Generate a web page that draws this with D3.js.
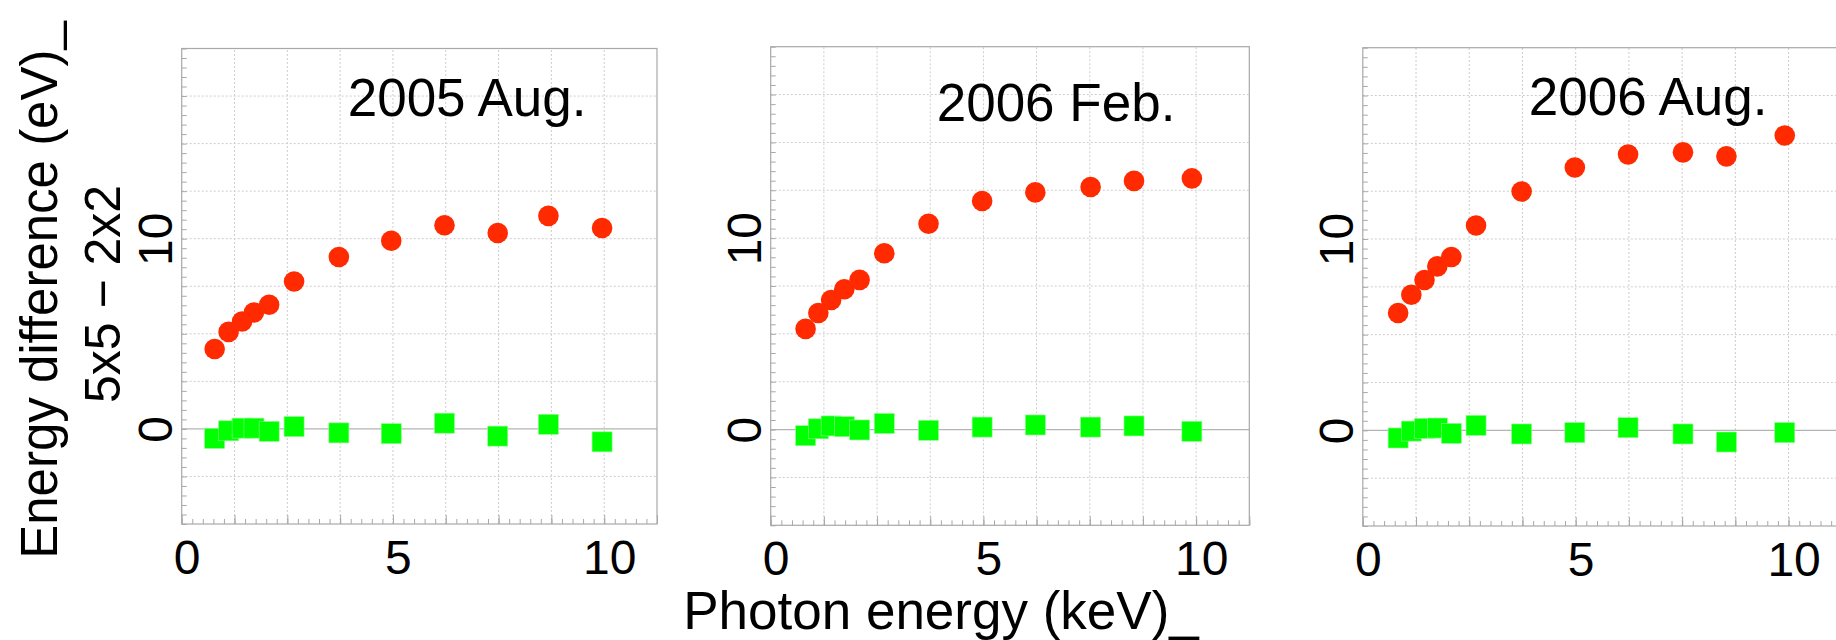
<!DOCTYPE html>
<meta charset="utf-8">
<style>
    body { margin: 0; background: #fff; }
    svg { display: block; font-family: "Liberation Sans", Arial, sans-serif; }
    .grid line { stroke: #cdcdcd; stroke-width: 1; stroke-dasharray: 2,2; }
    .zero { stroke: #b4b4b4; stroke-width: 1.2; }
    .frame { fill: none; stroke: #a8a8a8; stroke-width: 1.2; }
    .ticks path { display: none; }
    .ticks line { stroke: #a8a8a8; }
    .labels path, .labels line { display: none; }
</style>
<body>
<div id="chart"></div>
<script src="https://cdnjs.cloudflare.com/ajax/libs/d3/7.8.5/d3.min.js"></script>
<script>
    // photon energies (keV) and 5x5 - 2x2 energy differences (eV), one set per epoch
    var panelTitles = ["2005 Aug.", "2006 Feb.", "2006 Aug."];

    var energyAug05 = [0.78, 1.11, 1.43, 1.71, 2.07, 2.66, 3.72, 4.96, 6.22, 7.48, 8.68, 9.95];
    var circlesAug05 = [4.20, 5.10, 5.65, 6.12, 6.53, 7.75, 9.04, 9.89, 10.71, 10.30, 11.20, 10.56];
    var squaresAug05 = [-0.50, -0.10, 0.04, 0.04, -0.13, 0.12, -0.21, -0.25, 0.30, -0.38, 0.24, -0.68];

    var energyFeb06 = [0.82, 1.12, 1.42, 1.73, 2.09, 2.67, 3.71, 4.97, 6.22, 7.52, 8.54, 9.90];
    var circlesFeb06 = [5.26, 6.09, 6.77, 7.33, 7.82, 9.21, 10.75, 11.94, 12.39, 12.67, 12.99, 13.12];
    var squaresFeb06 = [-0.32, 0.04, 0.19, 0.15, -0.02, 0.32, -0.04, 0.13, 0.24, 0.13, 0.19, -0.09];

    var energyAug06 = [0.83, 1.14, 1.45, 1.75, 2.08, 2.66, 3.73, 4.98, 6.23, 7.52, 8.54, 9.91];
    var circlesAug06 = [6.13, 7.09, 7.86, 8.57, 9.06, 10.71, 12.48, 13.74, 14.42, 14.53, 14.32, 15.41];
    var squaresAug06 = [-0.40, -0.04, 0.10, 0.12, -0.16, 0.26, -0.19, -0.12, 0.14, -0.19, -0.61, -0.12];

    var xDomain = [0, 11.25],
        yDomain = [-5, 20],
        xTickLabels = [0, 5, 10],
        yTickLabels = [0, 10];

    var series = [
        {e: energyAug05, c: circlesAug05, s: squaresAug05},
        {e: energyFeb06, c: circlesFeb06, s: squaresFeb06},
        {e: energyAug06, c: circlesAug06, s: squaresAug06}
    ];

    // frame boxes (third one runs off the right edge)
    var boxes = [
        {x: 181.7, y: 48.5, w: 475.3, h: 475.5, tb: 115.7},
        {x: 770.7, y: 46.7, w: 478.6, h: 478.6, tb: 121.4},
        {x: 1362.8, y: 47.7, w: 479, h: 478.3, tb: 115}
    ];

    var svg = d3.select("#chart").append("svg")
        .attr("width", 1836)
        .attr("height", 640);

    function eps(v) { return v + 1e-9; }

    boxes.forEach(function(b, i) {
        var x = d3.scaleLinear().domain(xDomain).range([b.x, b.x + b.w]);
        var y = d3.scaleLinear().domain(yDomain).range([b.y + b.h, b.y]);
        var g = svg.append("g").attr("class", "panel");

        // dotted grid
        var grid = g.append("g").attr("class", "grid");
        grid.selectAll(".gx").data(d3.range(1.25, eps(10), 1.25))
            .enter().append("line")
            .attr("x1", d => x(d)).attr("x2", d => x(d))
            .attr("y1", y(yDomain[0])).attr("y2", y(yDomain[1]));
        grid.selectAll(".gy").data(d3.range(-2.5, eps(17.5), 2.5).filter(d => d !== 0))
            .enter().append("line")
            .attr("x1", x(xDomain[0])).attr("x2", x(xDomain[1]))
            .attr("y1", d => y(d)).attr("y2", d => y(d));
        g.append("line").attr("class", "zero")
            .attr("x1", x(xDomain[0])).attr("x2", x(xDomain[1]))
            .attr("y1", y(0)).attr("y2", y(0));

        // inner ticks on the bottom and left sides
        var bottom = g.append("g").attr("class", "ticks")
            .attr("transform", "translate(0," + y(yDomain[0]) + ")");
        bottom.call(d3.axisBottom(x).tickValues(d3.range(0, eps(11.25), 0.25)).tickSize(-5).tickFormat(""));
        bottom.append("g").call(d3.axisBottom(x).tickValues(d3.range(0, eps(11.25), 1.25)).tickSize(-9).tickFormat(""));
        var left = g.append("g").attr("class", "ticks")
            .attr("transform", "translate(" + x(xDomain[0]) + ",0)");
        left.call(d3.axisLeft(y).tickValues(d3.range(-5, eps(20), 0.5)).tickSize(-5).tickFormat(""));

        g.append("rect").attr("class", "frame")
            .attr("x", b.x).attr("y", b.y).attr("width", b.w).attr("height", b.h);

        // tick labels
        var xl = g.append("g").attr("class", "labels")
            .attr("transform", "translate(0," + y(yDomain[0]) + ")")
            .call(d3.axisBottom(x).tickValues(xTickLabels).tickSize(0).tickPadding(16));
        xl.selectAll("text").attr("dx", 5).style("font-size", "48px").attr("fill", "#000")
            .style("font-family", "Liberation Sans, Arial, sans-serif");
        var yl = g.append("g").attr("class", "labels")
            .attr("transform", "translate(" + x(xDomain[0]) + ",0)")
            .call(d3.axisLeft(y).tickValues(yTickLabels).tickSize(0));
        yl.selectAll("text")
            .attr("x", null).attr("dy", null)
            .attr("text-anchor", "middle")
            .attr("transform", "translate(-10,0) rotate(-90)")
            .style("font-size", "48px").attr("fill", "#000")
            .style("font-family", "Liberation Sans, Arial, sans-serif");

        var d = series[i];
        var pts = d.e.map((e, k) => ({e: e, c: d.c[k], s: d.s[k]}));

        g.selectAll(".dot").data(pts).enter().append("circle")
            .attr("cx", p => x(p.e)).attr("cy", p => y(p.c))
            .attr("r", 10.3).attr("fill", "#ff2a00");
        g.selectAll(".sq").data(pts).enter().append("rect")
            .attr("x", p => x(p.e) - 10).attr("y", p => y(p.s) - 10)
            .attr("width", 20).attr("height", 20)
            .attr("fill", "#00ff00").attr("stroke", "#8cff8c").attr("stroke-width", 0.6);

        g.append("text")
            .attr("x", b.x + 166).attr("y", b.tb)
            .style("font-size", "53px")
            .text(panelTitles[i]);
    });

    // axis titles
    svg.append("text")
        .attr("transform", "translate(57,290) rotate(-90)")
        .attr("text-anchor", "middle")
        .style("font-size", "51px")
        .text("Energy difference (eV)_");
    svg.append("text")
        .attr("transform", "translate(120,294) rotate(-90)")
        .attr("text-anchor", "middle")
        .style("font-size", "50px")
        .text("5x5 \u2212 2x2");
    svg.append("text")
        .attr("x", 941).attr("y", 629)
        .attr("text-anchor", "middle")
        .style("font-size", "53px")
        .text("Photon energy (keV)_");
</script>
</body>
